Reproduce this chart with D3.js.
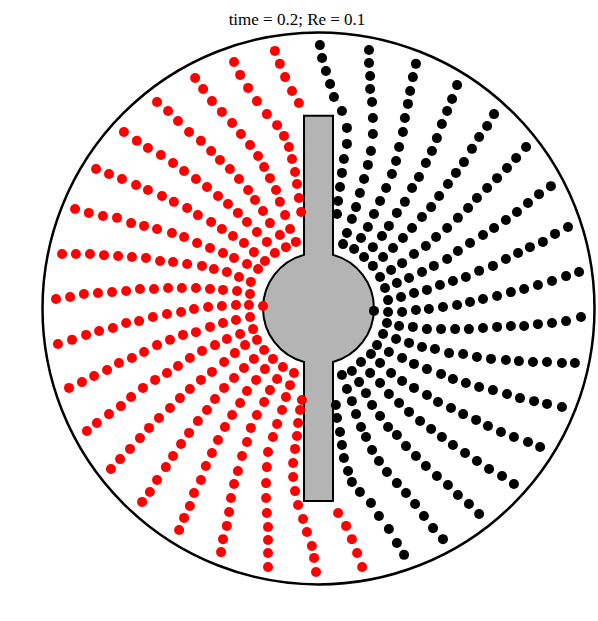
<!DOCTYPE html>
<html><head><meta charset="utf-8">
<script src="https://cdn.jsdelivr.net/npm/d3@7"></script>
<style>html,body{margin:0;padding:0;background:#fff;} svg{display:block;}</style>
</head><body>
<script>
const title = "time = 0.2; Re = 0.1";
const outerRadius = 1;
const hubRadius = 0.201;
const paddleHalfWidth = 0.0525;
const paddleHalfLength = 0.698;

const redArms = [
[[-0.158,0.933],[-0.140,0.886],[-0.121,0.838],[-0.096,0.788],[-0.071,0.744]],
[[-0.306,0.893],[-0.284,0.846],[-0.255,0.799],[-0.223,0.751],[-0.187,0.704],[-0.150,0.664],[-0.125,0.625],[-0.107,0.585],[-0.096,0.541],[-0.085,0.494],[-0.078,0.451],[-0.071,0.400],[-0.063,0.349]],
[[-0.447,0.835],[-0.418,0.795],[-0.386,0.751],[-0.350,0.712],[-0.313,0.672],[-0.281,0.632],[-0.248,0.592],[-0.219,0.552],[-0.197,0.512],[-0.176,0.472],[-0.154,0.429],[-0.140,0.386],[-0.121,0.338],[-0.103,0.288],[-0.082,0.241]],
[[-0.585,0.748],[-0.545,0.715],[-0.509,0.679],[-0.469,0.639],[-0.426,0.607],[-0.389,0.570],[-0.357,0.538],[-0.321,0.505],[-0.288,0.469],[-0.255,0.429],[-0.230,0.393],[-0.201,0.353],[-0.176,0.309],[-0.140,0.266],[-0.118,0.222]],
[[-0.705,0.639],[-0.658,0.607],[-0.618,0.581],[-0.571,0.556],[-0.527,0.527],[-0.487,0.498],[-0.444,0.469],[-0.404,0.440],[-0.364,0.407],[-0.328,0.378],[-0.292,0.346],[-0.259,0.313],[-0.223,0.277],[-0.187,0.241],[-0.158,0.201]],
[[-0.806,0.505],[-0.759,0.487],[-0.712,0.469],[-0.661,0.447],[-0.618,0.429],[-0.567,0.407],[-0.524,0.386],[-0.476,0.364],[-0.437,0.338],[-0.389,0.313],[-0.350,0.288],[-0.310,0.262],[-0.270,0.237],[-0.234,0.204],[-0.194,0.172]],
[[-0.882,0.360],[-0.832,0.346],[-0.781,0.335],[-0.730,0.328],[-0.679,0.309],[-0.632,0.299],[-0.585,0.288],[-0.531,0.273],[-0.487,0.259],[-0.440,0.237],[-0.393,0.219],[-0.346,0.201],[-0.306,0.183],[-0.259,0.161],[-0.219,0.143]],
[[-0.929,0.197],[-0.879,0.197],[-0.828,0.197],[-0.777,0.193],[-0.726,0.190],[-0.676,0.186],[-0.625,0.183],[-0.574,0.172],[-0.527,0.168],[-0.476,0.161],[-0.422,0.154],[-0.379,0.143],[-0.332,0.132],[-0.288,0.114],[-0.245,0.096]],
[[-0.951,0.034],[-0.900,0.041],[-0.850,0.052],[-0.799,0.056],[-0.748,0.059],[-0.697,0.063],[-0.647,0.070],[-0.596,0.070],[-0.545,0.074],[-0.495,0.074],[-0.444,0.074],[-0.393,0.070],[-0.346,0.067],[-0.295,0.063],[-0.248,0.052]],
[[-0.944,-0.129],[-0.893,-0.114],[-0.842,-0.096],[-0.795,-0.082],[-0.745,-0.071],[-0.697,-0.053],[-0.650,-0.046],[-0.600,-0.031],[-0.549,-0.020],[-0.498,-0.013],[-0.451,-0.002],[-0.400,0.005],[-0.350,0.009],[-0.299,0.012],[-0.252,0.012],[-0.201,0.009]],
[[-0.904,-0.288],[-0.857,-0.267],[-0.813,-0.245],[-0.766,-0.223],[-0.723,-0.198],[-0.676,-0.180],[-0.632,-0.158],[-0.585,-0.133],[-0.538,-0.114],[-0.491,-0.096],[-0.444,-0.086],[-0.393,-0.067],[-0.346,-0.053],[-0.299,-0.042],[-0.248,-0.031]],
[[-0.839,-0.444],[-0.803,-0.415],[-0.759,-0.383],[-0.716,-0.354],[-0.679,-0.321],[-0.636,-0.288],[-0.592,-0.259],[-0.549,-0.234],[-0.509,-0.209],[-0.466,-0.180],[-0.422,-0.154],[-0.375,-0.133],[-0.332,-0.111],[-0.284,-0.093],[-0.237,-0.075]],
[[-0.752,-0.582],[-0.719,-0.546],[-0.683,-0.509],[-0.647,-0.470],[-0.614,-0.433],[-0.578,-0.397],[-0.538,-0.361],[-0.502,-0.325],[-0.466,-0.292],[-0.426,-0.259],[-0.386,-0.230],[-0.342,-0.194],[-0.303,-0.162],[-0.266,-0.133],[-0.223,-0.114]],
[[-0.639,-0.701],[-0.611,-0.665],[-0.585,-0.622],[-0.553,-0.575],[-0.527,-0.535],[-0.498,-0.491],[-0.469,-0.451],[-0.437,-0.408],[-0.404,-0.368],[-0.375,-0.328],[-0.342,-0.288],[-0.306,-0.252],[-0.270,-0.216],[-0.234,-0.183],[-0.197,-0.151]],
[[-0.505,-0.803],[-0.487,-0.759],[-0.466,-0.716],[-0.451,-0.669],[-0.426,-0.622],[-0.408,-0.571],[-0.386,-0.524],[-0.364,-0.477],[-0.339,-0.430],[-0.313,-0.386],[-0.284,-0.343],[-0.259,-0.299],[-0.226,-0.259],[-0.194,-0.220],[-0.165,-0.183]],
[[-0.353,-0.883],[-0.346,-0.836],[-0.332,-0.788],[-0.324,-0.738],[-0.317,-0.687],[-0.306,-0.636],[-0.292,-0.589],[-0.277,-0.535],[-0.259,-0.484],[-0.245,-0.433],[-0.223,-0.386],[-0.197,-0.339],[-0.176,-0.296],[-0.150,-0.256],[-0.129,-0.212]],
[[-0.183,-0.937],[-0.183,-0.886],[-0.183,-0.839],[-0.183,-0.792],[-0.187,-0.741],[-0.190,-0.687],[-0.190,-0.633],[-0.187,-0.575],[-0.183,-0.520],[-0.165,-0.466],[-0.150,-0.419],[-0.132,-0.368],[-0.118,-0.321],[-0.103,-0.278],[-0.089,-0.234]],
[[-0.009,-0.955],[-0.016,-0.904],[-0.024,-0.861],[-0.042,-0.810],[-0.056,-0.763],[-0.074,-0.712],[-0.085,-0.662],[-0.092,-0.611],[-0.092,-0.560],[-0.085,-0.509],[-0.078,-0.462],[-0.074,-0.415],[-0.067,-0.368],[-0.060,-0.332]],
[[0.158,-0.937],[0.140,-0.886],[0.121,-0.836],[0.100,-0.788],[0.071,-0.741]]
];

const blackArms = [
[[0.005,0.954],[0.013,0.907],[0.027,0.860],[0.042,0.813],[0.056,0.766],[0.085,0.715],[0.103,0.654],[0.103,0.596],[0.092,0.541],[0.085,0.491],[0.078,0.440],[0.071,0.389],[0.067,0.342]],
[[0.183,0.936],[0.183,0.889],[0.187,0.842],[0.187,0.795],[0.194,0.748],[0.197,0.690],[0.197,0.632],[0.190,0.570],[0.179,0.520],[0.165,0.469],[0.150,0.418],[0.136,0.367],[0.121,0.324],[0.103,0.273],[0.089,0.233]],
[[0.353,0.886],[0.342,0.838],[0.332,0.788],[0.324,0.741],[0.313,0.690],[0.306,0.639],[0.292,0.585],[0.281,0.534],[0.266,0.487],[0.245,0.436],[0.223,0.389],[0.201,0.342],[0.179,0.295],[0.154,0.255],[0.129,0.215]],
[[0.502,0.809],[0.484,0.759],[0.466,0.715],[0.447,0.668],[0.429,0.617],[0.411,0.570],[0.389,0.527],[0.364,0.476],[0.339,0.436],[0.313,0.386],[0.284,0.346],[0.255,0.299],[0.230,0.262],[0.197,0.222],[0.165,0.186]],
[[0.636,0.704],[0.611,0.661],[0.582,0.621],[0.556,0.578],[0.527,0.530],[0.498,0.491],[0.469,0.451],[0.437,0.407],[0.408,0.367],[0.375,0.331],[0.339,0.291],[0.306,0.255],[0.270,0.219],[0.234,0.186],[0.197,0.154]],
[[0.752,0.585],[0.716,0.545],[0.683,0.509],[0.647,0.472],[0.611,0.436],[0.574,0.400],[0.542,0.364],[0.505,0.328],[0.466,0.291],[0.426,0.259],[0.389,0.226],[0.346,0.197],[0.303,0.164],[0.263,0.139],[0.223,0.114]],
[[0.842,0.443],[0.799,0.414],[0.759,0.382],[0.719,0.349],[0.679,0.320],[0.636,0.291],[0.596,0.266],[0.549,0.237],[0.505,0.208],[0.466,0.179],[0.418,0.154],[0.375,0.132],[0.328,0.110],[0.284,0.092],[0.241,0.074]],
[[0.904,0.295],[0.857,0.270],[0.813,0.241],[0.766,0.222],[0.723,0.201],[0.679,0.179],[0.632,0.154],[0.582,0.136],[0.534,0.114],[0.487,0.099],[0.440,0.085],[0.393,0.067],[0.346,0.056],[0.299,0.041],[0.252,0.030]],
[[0.944,0.132],[0.897,0.117],[0.846,0.099],[0.795,0.085],[0.745,0.070],[0.697,0.059],[0.647,0.045],[0.596,0.034],[0.549,0.023],[0.502,0.012],[0.451,0.005],[0.400,-0.002],[0.353,-0.006],[0.303,-0.013],[0.252,-0.013],[0.201,-0.009]],
[[0.951,-0.031],[0.897,-0.046],[0.846,-0.053],[0.795,-0.057],[0.745,-0.064],[0.697,-0.064],[0.647,-0.067],[0.596,-0.071],[0.545,-0.075],[0.495,-0.075],[0.444,-0.075],[0.393,-0.075],[0.342,-0.067],[0.292,-0.064],[0.248,-0.053]],
[[0.929,-0.198],[0.882,-0.198],[0.828,-0.194],[0.777,-0.194],[0.726,-0.191],[0.679,-0.187],[0.625,-0.183],[0.574,-0.176],[0.524,-0.165],[0.473,-0.162],[0.422,-0.147],[0.375,-0.140],[0.328,-0.125],[0.281,-0.111],[0.234,-0.093]],
[[0.882,-0.357],[0.828,-0.346],[0.781,-0.336],[0.730,-0.325],[0.683,-0.310],[0.632,-0.296],[0.582,-0.285],[0.534,-0.270],[0.487,-0.256],[0.444,-0.238],[0.393,-0.220],[0.346,-0.201],[0.303,-0.180],[0.255,-0.158],[0.212,-0.133]],
[[0.803,-0.502],[0.759,-0.484],[0.708,-0.466],[0.661,-0.448],[0.614,-0.426],[0.571,-0.404],[0.524,-0.383],[0.480,-0.361],[0.433,-0.339],[0.393,-0.314],[0.346,-0.288],[0.303,-0.263],[0.263,-0.234],[0.223,-0.198],[0.190,-0.165]],
[[0.708,-0.636],[0.665,-0.607],[0.618,-0.582],[0.574,-0.553],[0.531,-0.524],[0.487,-0.495],[0.447,-0.466],[0.408,-0.437],[0.368,-0.408],[0.328,-0.375],[0.292,-0.343],[0.255,-0.310],[0.223,-0.270],[0.187,-0.234],[0.154,-0.194]],
[[0.582,-0.745],[0.545,-0.709],[0.505,-0.676],[0.469,-0.640],[0.429,-0.607],[0.389,-0.571],[0.353,-0.535],[0.317,-0.499],[0.284,-0.459],[0.252,-0.430],[0.223,-0.390],[0.194,-0.350],[0.172,-0.307],[0.147,-0.267],[0.121,-0.227]],
[[0.451,-0.836],[0.415,-0.796],[0.382,-0.752],[0.350,-0.709],[0.317,-0.669],[0.284,-0.633],[0.248,-0.593],[0.219,-0.553],[0.194,-0.513],[0.172,-0.466],[0.154,-0.430],[0.136,-0.383],[0.121,-0.336],[0.103,-0.292],[0.085,-0.241]],
[[0.310,-0.893],[0.284,-0.850],[0.255,-0.799],[0.219,-0.752],[0.190,-0.705],[0.150,-0.665],[0.121,-0.629],[0.107,-0.589],[0.092,-0.542],[0.085,-0.495],[0.078,-0.448],[0.067,-0.397],[0.063,-0.350]]
];

const W = 598, H = 621;
const cx = 318.5, cy = 308.4, Rpx = 276;
const x = d3.scaleLinear().domain([-outerRadius, outerRadius]).range([cx - Rpx, cx + Rpx]);
const y = d3.scaleLinear().domain([-outerRadius, outerRadius]).range([cy + Rpx, cy - Rpx]);

const svg = d3.select("body").append("svg").attr("width", W).attr("height", H);
svg.append("rect").attr("width", W).attr("height", H).attr("fill", "#fff");

svg.append("text")
  .attr("x", 297).attr("y", 25)
  .attr("text-anchor", "middle")
  .attr("font-family", "'Liberation Serif', 'Times New Roman', serif")
  .attr("font-size", 17)
  .attr("fill", "#000")
  .text(title);

svg.append("circle")
  .attr("cx", x(0)).attr("cy", y(0))
  .attr("r", x(outerRadius) - x(0))
  .attr("fill", "none").attr("stroke", "#000").attr("stroke-width", 2.5);

// paddle with hub
const w = paddleHalfWidth, L = paddleHalfLength;
const yj = Math.sqrt(hubRadius * hubRadius - w * w);
const rpx = x(hubRadius) - x(0);
const wpx = x(w) - x(0), yjpx = y(0) - y(yj);
const aL = Math.atan2(-yjpx, -wpx), aLb = Math.atan2(yjpx, -wpx);
const aRb = Math.atan2(yjpx, wpx), aRt = Math.atan2(-yjpx, wpx);
const p = d3.path();
p.moveTo(x(-w), y(L));
p.lineTo(x(-w), y(yj));
p.arc(x(0), y(0), rpx, aL, aLb, true);
p.lineTo(x(-w), y(-L));
p.lineTo(x(w), y(-L));
p.lineTo(x(w), y(-yj));
p.arc(x(0), y(0), rpx, aRb, aRt, true);
p.lineTo(x(w), y(L));
p.closePath();

svg.append("path").attr("d", p.toString())
  .attr("fill", "#b4b4b4").attr("stroke", "#000").attr("stroke-width", 2);

const dotR = 5;
svg.append("g").selectAll("circle").data(redArms.flat()).join("circle")
  .attr("cx", d => x(d[0])).attr("cy", d => y(d[1])).attr("r", dotR).attr("fill", "#ff0000");
svg.append("g").selectAll("circle").data(blackArms.flat()).join("circle")
  .attr("cx", d => x(d[0])).attr("cy", d => y(d[1])).attr("r", dotR).attr("fill", "#000");
</script>
</body></html>
